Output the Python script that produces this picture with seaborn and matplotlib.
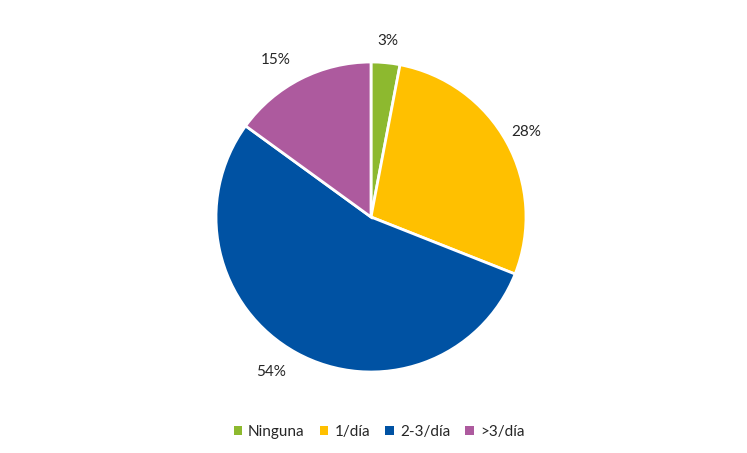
import matplotlib
matplotlib.use("Agg")
import matplotlib.pyplot as plt
from matplotlib.patches import Patch
import seaborn as sns

# Data
categories = ['Ninguna', '1/día', '2-3/día', '>3/día']
shares = [3, 28, 54, 15]
colors = ['#8DB92F', '#FFC000', '#0052A3', '#AD5A9E']

sns.set_theme(style="white")
plt.rcParams['font.family'] = ['Lato', 'DejaVu Sans']

W, H = 747, 453
fig = plt.figure(figsize=(W / 100, H / 100), dpi=100)
cx, cy, r = 371, 217, 155
ax = fig.add_axes([(cx - r) / W, (H - cy - r) / H, 2 * r / W, 2 * r / H])

wedges, texts = ax.pie(
    shares, colors=colors, startangle=90, counterclock=False,
    labels=[f'{v}%' for v in shares], labeldistance=1.14,
    wedgeprops=dict(edgecolor='white', linewidth=2),
    textprops=dict(fontsize=11, color='#262626'))
# right-hand labels centred, left-hand ones keep right alignment
for t in texts:
    if t.get_position()[0] > 0:
        t.set_horizontalalignment('center')
ax.set_aspect('equal')
ax.set_xlim(-1, 1)
ax.set_ylim(-1, 1)
ax.axis('off')

handles = [Patch(facecolor=c, edgecolor='none') for c in colors]
fig.legend(handles, categories, loc='center', bbox_to_anchor=(379 / W, 1 - 432 / H),
           ncol=4, frameon=False, fontsize=11, handlelength=0.55, handleheight=0.55,
           handletextpad=0.4, columnspacing=1.0)

fig.savefig('out.png', dpi=100)
